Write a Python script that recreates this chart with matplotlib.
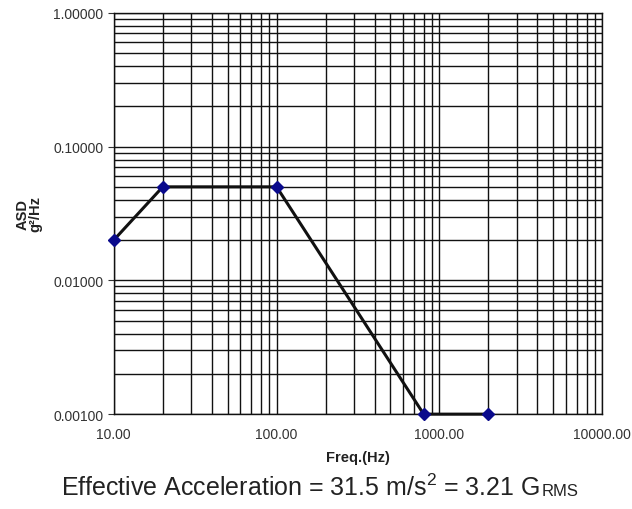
import matplotlib
matplotlib.use('Agg')
import matplotlib.pyplot as plt
from matplotlib.ticker import LogLocator, FixedLocator, NullFormatter

plt.rcParams['font.family'] = ['Liberation Sans', 'DejaVu Sans']
plt.rcParams['mathtext.fontset'] = 'custom'
plt.rcParams['mathtext.rm'] = 'Liberation Sans'
plt.rcParams['mathtext.bf'] = 'Liberation Sans:bold'

freq = [10, 20, 100, 800, 2000]
asd = [0.02, 0.05, 0.05, 0.001, 0.001]
x_ticks = [10, 100, 1000, 10000]
x_labels = ['10.00', '100.00', '1000.00', '10000.00']
y_ticks = [0.001, 0.01, 0.1, 1.0]
y_labels = ['0.00100', '0.01000', '0.10000', '1.00000']

fig = plt.figure(figsize=(6.32, 5.10), dpi=100)
ax = fig.add_axes([0.180, 0.186, 0.773, 0.787])

ax.set_xscale('log')
ax.set_yscale('log')
ax.set_xlim(10, 10000)
ax.set_ylim(0.001, 1)

ax.xaxis.set_major_locator(FixedLocator(x_ticks))
ax.set_xticklabels(x_labels)
ax.yaxis.set_major_locator(FixedLocator(y_ticks))
ax.set_yticklabels(y_labels)
ax.xaxis.set_minor_locator(LogLocator(base=10, subs=range(2, 10)))
ax.yaxis.set_minor_locator(LogLocator(base=10, subs=range(2, 10)))
ax.xaxis.set_minor_formatter(NullFormatter())
ax.yaxis.set_minor_formatter(NullFormatter())

ax.grid(True, which='both', color='#111111', linewidth=1.0)
ax.tick_params(axis='both', which='minor', length=0)
ax.tick_params(axis='x', which='major', length=0, labelsize=10, colors='#333333', pad=9)
ax.tick_params(axis='y', which='major', length=4, labelsize=10, colors='#333333')
for s in ax.spines.values():
    s.set_color('#111111')
    s.set_linewidth(1.0)

ax.plot(freq, asd, color='#111111', linewidth=2.2, marker='D', markersize=6.5,
        markerfacecolor='#0a0a8c', markeredgecolor='#0a0a8c', clip_on=False, zorder=5)

ax.set_xlabel('Freq.(Hz)', fontsize=10.5, fontweight='bold', color='#222222', labelpad=7)
ax.set_ylabel('ASD\ng²/Hz', fontsize=10.5, fontweight='bold', color='#222222', labelpad=8,
              linespacing=0.9)

main = fig.text(0.097, 0.028, 'Effective Acceleration = 31.5 m/s$^2$ = 3.21 G', fontsize=18,
                color='#222222', ha='left', va='baseline')
fig.canvas.draw()
bb = main.get_window_extent().transformed(fig.transFigure.inverted())
fig.text(bb.x1 + 0.002, 0.028, 'RMS', fontsize=12, color='#222222', ha='left', va='baseline')

fig.savefig('out.png', dpi=100)
